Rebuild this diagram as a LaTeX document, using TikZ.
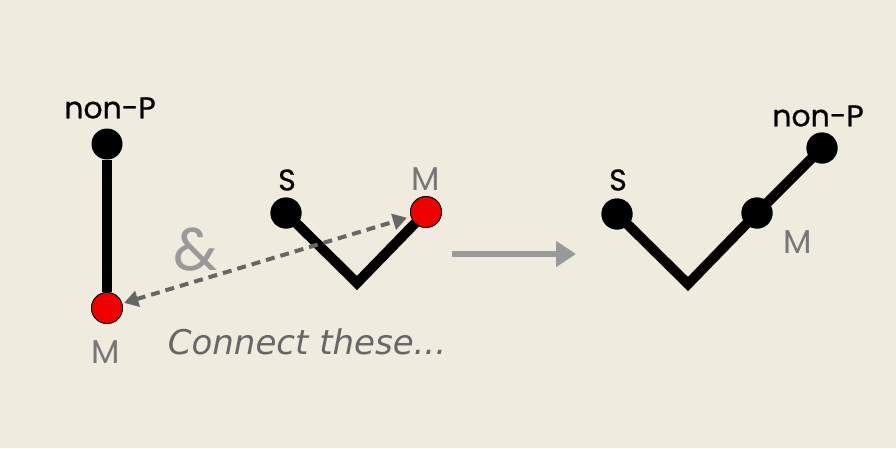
\documentclass[tikz,border=0pt]{standalone}
\usepackage{fontspec}
\setmainfont{Poppins}
\newfontfamily\medfont{Poppins}[FakeBold=0.6]
\newfontfamily\handfont{DejaVu Sans}
\usetikzlibrary{arrows.meta}
\definecolor{bgc}{HTML}{F0EBDF}
\definecolor{redc}{HTML}{EE0000}
\definecolor{mgray}{HTML}{777777}
\definecolor{agray}{HTML}{999999}
\definecolor{dgray}{HTML}{666666}
\tikzset{
  bdot/.style={circle,fill=black,minimum size=31pt,inner sep=0pt},
  rdot/.style={circle,fill=redc,draw=black,line width=0.8pt,minimum size=31pt,inner sep=0pt},
  bond/.style={line width=10pt,black},
  lbl/.style={font=\medfont\fontsize{30}{30}\selectfont,text=black,inner sep=0pt},
  mlbl/.style={font=\fontsize{33}{33}\selectfont,text=mgray,inner sep=0pt},
}
\begin{document}
\begin{tikzpicture}[x=1pt,y=-1pt]
\fill[bgc] (0,0) rectangle (896,448);
\useasboundingbox (0,0) rectangle (896,448);
% left
\node[bdot] (a1) at (107,144) {};
\node[rdot] (a2) at (107,308) {};
\draw[bond] (a1) -- (a2);
\node[rdot] (a2) at (107,308) {};
\node[lbl] (la1) at (110,108) {non-P};
\node[mlbl] (la2) at (106,352) {M};
% middle
\node[bdot] (b1) at (286,213) {};
\coordinate (b2) at (357,283);
\node[rdot] (b3) at (426,212) {};
\draw[bond,line join=miter] (b1.center) -- (b2) -- (b3.center);
\node[bdot] at (286,213) {};
\node[rdot] (b3) at (426,212) {};
\node[lbl] (lb1) at (287,180) {S};
\node[mlbl] (lb3) at (426,179) {M};
\node[font=\fontsize{60}{60}\selectfont,text=agray] (amp) at (196,250) {\&};
\draw[dgray,line width=4pt,dash pattern=on 9pt off 6pt,{Triangle[length=14pt,width=16pt]}-{Triangle[length=14pt,width=16pt]},shorten <=2pt,shorten >=4pt] (a2) -- (b3);
\node[font=\handfont\itshape\fontsize{34}{34}\selectfont,text=dgray] (conn) at (307,342) {Connect these...};
% arrow
\coordinate (p1) at (452,254);
\coordinate (p2) at (576,254);
\draw[agray,line width=6pt,-{Triangle[length=20pt,width=25pt]}] (p1) -- (p2);
% right
\node[bdot] (c1) at (617,214) {};
\coordinate (c2) at (688,284);
\node[bdot] (c3) at (757,213) {};
\node[bdot] (c4) at (822,148) {};
\draw[bond,line join=miter] (c1.center) -- (c2) -- (c3.center) -- (c4.center);
\node[bdot] at (617,214) {};
\node[bdot] at (757,213) {};
\node[bdot] at (822,148) {};
\node[lbl] (lc1) at (618,180) {S};
\node[lbl] (lc4) at (818,116) {non-P};
\node[mlbl] (lc3) at (798,242) {M};
\end{tikzpicture}
\end{document}
